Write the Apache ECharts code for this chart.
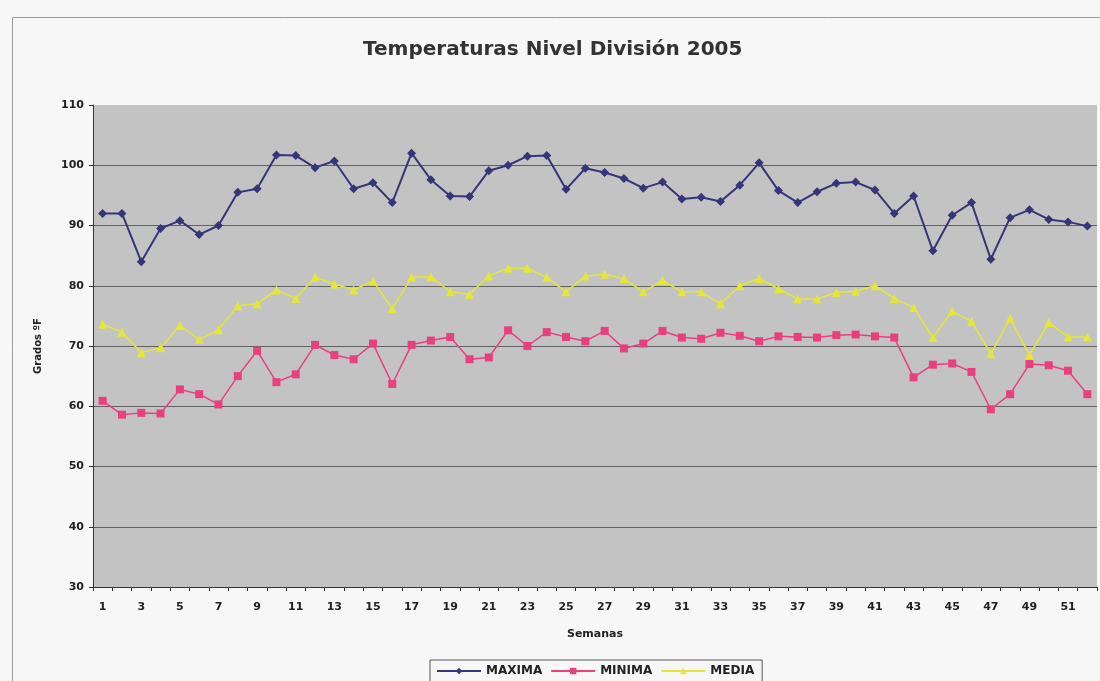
<!DOCTYPE html>
<html>
<head>
<meta charset="utf-8">
<script src="https://cdn.jsdelivr.net/npm/echarts@6/dist/echarts.min.js"></script>
<style>
html,body{margin:0;padding:0;background:#f7f7f7;}
#chart{width:1100px;height:681px;}
</style>
</head>
<body>
<div id="chart"></div>
<script>
var weeks = [];
for (var i = 1; i <= 52; i++) weeks.push(String(i));

var maxima = [92.0, 92.0, 84.0, 89.5, 90.8, 88.5, 90.0, 95.5, 96.1, 101.7, 101.6, 99.6, 100.7, 96.1, 97.1, 93.8, 102.0, 97.6, 94.9, 94.8, 99.1, 100.0, 101.5, 101.6, 96.0, 99.5, 98.8, 97.8, 96.2, 97.2, 94.4, 94.7, 94.0, 96.7, 100.4, 95.8, 93.8, 95.6, 97.0, 97.2, 95.9, 92.0, 94.9, 85.8, 91.7, 93.8, 84.4, 91.3, 92.6, 91.0, 90.6, 89.9];
var minima = [60.9, 58.6, 58.9, 58.8, 62.8, 62.0, 60.3, 65.0, 69.2, 64.0, 65.3, 70.2, 68.5, 67.8, 70.4, 63.7, 70.2, 70.9, 71.5, 67.8, 68.1, 72.6, 70.0, 72.3, 71.5, 70.8, 72.5, 69.6, 70.4, 72.5, 71.4, 71.2, 72.2, 71.7, 70.8, 71.6, 71.5, 71.4, 71.8, 71.9, 71.6, 71.4, 64.8, 66.9, 67.1, 65.7, 59.5, 62.0, 67.0, 66.8, 65.9, 62.0];
var media = [73.6, 72.3, 68.9, 69.7, 73.4, 71.1, 72.7, 76.7, 77.0, 79.3, 77.9, 81.4, 80.3, 79.3, 80.8, 76.2, 81.4, 81.5, 79.0, 78.6, 81.6, 82.9, 82.9, 81.4, 79.0, 81.6, 81.9, 81.2, 79.0, 80.9, 79.0, 79.0, 77.0, 80.0, 81.2, 79.5, 77.8, 77.8, 78.9, 79.1, 80.0, 77.9, 76.4, 71.4, 75.8, 74.1, 68.7, 74.6, 68.5, 73.9, 71.5, 71.5];

var seriesNames = ['MAXIMA', 'MINIMA', 'MEDIA'];
var titleText = 'Temperaturas Nivel División 2005';
var yName = 'Grados ºF';
var xName = 'Semanas';

var chart = echarts.init(document.getElementById('chart'));
var font = '"DejaVu Sans", Arial, sans-serif';
chart.setOption({
  backgroundColor: '#f7f7f7',
  animation: false,
  title: {
    text: titleText,
    left: 358,
    top: 35,
    textStyle: {fontFamily: font, fontWeight: 'bold', fontSize: 20, color: '#333333'}
  },
  graphic: [{
    type: 'rect', left: 10, top: 15,
    shape: {width: 1088, height: 680},
    style: {fill: 'none', stroke: '#9a9a9a', lineWidth: 1},
    silent: true
  }],
  legend: {
    data: seriesNames,
    bottom: -2,
    left: 430,
    itemWidth: 44,
    itemHeight: 8,
    itemGap: 8,
    padding: [5, 8, 6, 6],
    borderColor: '#555',
    borderWidth: 1,
    backgroundColor: '#f7f7f7',
    textStyle: {fontFamily: font, fontWeight: 'bold', fontSize: 12, color: '#222'}
  },
  grid: {left: 93, right: 3, top: 105, bottom: 94, show: true, backgroundColor: '#c3c3c3', borderWidth: 0},
  xAxis: {
    type: 'category',
    data: weeks,
    boundaryGap: true,
    name: xName,
    nameLocation: 'middle',
    nameGap: 42,
    nameTextStyle: {fontFamily: font, fontWeight: 'bold', fontSize: 11, color: '#222'},
    axisLine: {lineStyle: {color: '#333', width: 1}},
    axisTick: {show: true, interval: 0, length: 4, lineStyle: {color: '#333'}},
    axisLabel: {interval: 1, margin: 15, fontFamily: font, fontWeight: 'bold', fontSize: 11, color: '#222'},
    splitLine: {show: false}
  },
  yAxis: {
    type: 'value',
    min: 30, max: 110, interval: 10,
    name: yName,
    nameLocation: 'middle',
    nameGap: 50,
    nameRotate: 90,
    nameTextStyle: {fontFamily: font, fontWeight: 'bold', fontSize: 10, color: '#222'},
    axisLine: {show: true, lineStyle: {color: '#333', width: 1}},
    axisTick: {show: true, length: 4, lineStyle: {color: '#333'}},
    axisLabel: {margin: 9, fontFamily: font, fontWeight: 'bold', fontSize: 11, color: '#222'},
    splitLine: {show: true, showMaxLine: false, lineStyle: {color: '#606060', width: 1.2}}
  },
  series: [
    {
      name: seriesNames[0], type: 'line', data: maxima,
      symbol: 'diamond', symbolSize: 9,
      lineStyle: {color: '#35357a', width: 2},
      itemStyle: {color: '#35357a'}
    },
    {
      name: seriesNames[1], type: 'line', data: minima,
      symbol: 'rect', symbolSize: 8,
      lineStyle: {color: '#e8407e', width: 1.5},
      itemStyle: {color: '#e8407e'}
    },
    {
      name: seriesNames[2], type: 'line', data: media,
      symbol: 'triangle', symbolSize: 9,
      lineStyle: {color: '#e6e63a', width: 1.5},
      itemStyle: {color: '#e6e63a'}
    }
  ]
});
</script>
</body>
</html>
